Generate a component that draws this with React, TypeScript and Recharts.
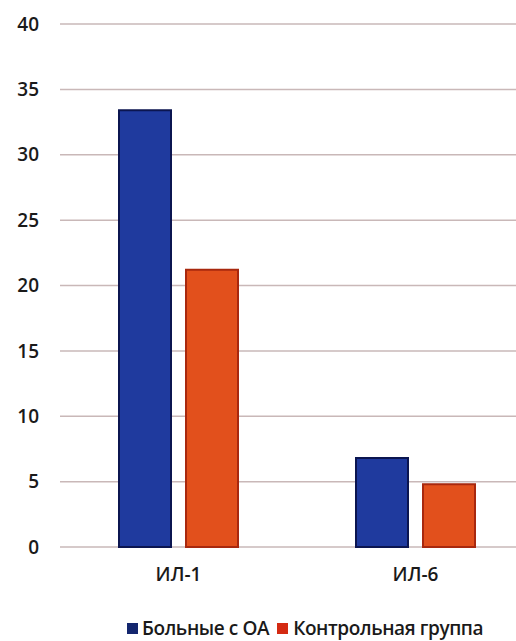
import React from 'react';
import { BarChart, Bar, XAxis, YAxis, CartesianGrid, Legend } from 'recharts';

const categories = ['ИЛ-1', 'ИЛ-6'];
const patients = [33.4, 6.8];
const control = [21.2, 4.8];
const yTicks = [0, 5, 10, 15, 20, 25, 30, 35, 40];

const data = categories.map((name, i) => ({ name, oa: patients[i], ctrl: control[i] }));

const font = '"Open Sans", "DejaVu Sans", sans-serif';

const renderLegend = () => (
  <div style={{ display: 'flex', alignItems: 'center', height: 30, fontFamily: font, fontSize: 19, color: '#1a1a1a', fontWeight: 600, letterSpacing: -0.4, whiteSpace: 'nowrap' }}>
    <span style={{ width: 11, height: 11, background: '#13266e', display: 'inline-block', marginRight: 4 }} />
    <span style={{ marginRight: 8 }}>Больные с ОА</span>
    <span style={{ width: 11, height: 11, background: '#d42a12', display: 'inline-block', marginRight: 5 }} />
    <span>Контрольная группа</span>
  </div>
);

export default function App() {
  return (
    <div style={{ position: 'absolute', left: 0, top: 0, width: 516, height: 641, overflow: 'hidden', background: '#fff' }}>
      <BarChart
        width={534}
        height={641}
        data={data}
        margin={{ top: 24, right: 0, left: 0, bottom: 0 }}
        barSize={52}
        barGap={15}
      >
        <CartesianGrid vertical={false} stroke="#c9b8b8" strokeWidth={1.5} />
        <XAxis
          dataKey="name"
          axisLine={false}
          tickLine={false}
          tickMargin={15}
          height={60}
          tick={{ fill: '#1a1a1a', fontSize: 19, fontFamily: font, fontWeight: 600 }}
        />
        <YAxis
          domain={[0, 40]}
          ticks={yTicks}
          axisLine={false}
          tickLine={false}
          tickMargin={15}
          width={60}
          tick={{ fill: '#1a1a1a', fontSize: 19, fontFamily: font, fontWeight: 600 }}
        />
        <Legend
          verticalAlign="bottom"
          height={34}
          content={renderLegend}
          wrapperStyle={{ left: 127, width: 420, top: 613, bottom: 'auto' }}
        />
        <Bar dataKey="oa" name="Больные с ОА" fill="#1f3a9e" stroke="#0b1550" strokeWidth={2} isAnimationActive={false} />
        <Bar dataKey="ctrl" name="Контрольная группа" fill="#e2501c" stroke="#a8280e" strokeWidth={2} isAnimationActive={false} />
      </BarChart>
    </div>
  );
}
